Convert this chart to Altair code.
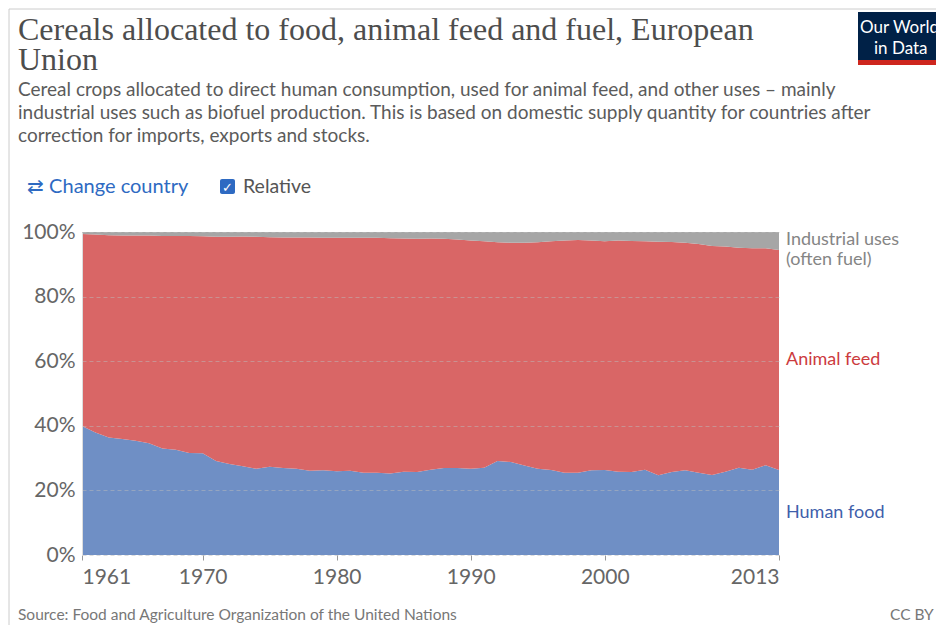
import altair as alt
import pandas as pd

years = list(range(1961, 2014))
human_food = [39.9, 37.9, 36.4, 35.9, 35.4, 34.6, 33.0, 32.6, 31.6, 31.5,
              29.1, 28.2, 27.5, 26.7, 27.3, 26.9, 26.7, 26.1, 26.2, 25.9,
              26.1, 25.5, 25.5, 25.2, 25.8, 25.7, 26.4, 26.9, 26.9, 26.7,
              27.0, 29.1, 28.8, 27.7, 26.7, 26.3, 25.5, 25.5, 26.2, 26.3,
              25.8, 25.7, 26.4, 24.7, 25.7, 26.2, 25.5, 24.8, 25.8, 27.0,
              26.4, 27.8, 26.3]
animal_feed = [59.5, 61.3, 62.6, 63.0, 63.5, 64.3, 65.8, 66.2, 67.2, 67.2,
               69.4, 70.3, 71.1, 71.8, 71.1, 71.4, 71.6, 72.2, 72.0, 72.3,
               72.1, 72.7, 72.7, 72.9, 72.2, 72.2, 71.6, 71.0, 70.8, 70.7,
               70.1, 67.7, 67.9, 69.0, 70.1, 70.8, 71.9, 72.0, 71.2, 70.8,
               71.6, 71.5, 70.7, 72.3, 71.2, 70.5, 70.8, 70.9, 69.7, 68.1,
               68.6, 67.2, 68.1]
industrial = [0.6, 0.8, 1.0, 1.1, 1.1, 1.1, 1.2, 1.2, 1.2, 1.3,
              1.5, 1.5, 1.4, 1.5, 1.6, 1.7, 1.7, 1.7, 1.8, 1.8,
              1.8, 1.8, 1.8, 1.9, 2.0, 2.1, 2.0, 2.1, 2.3, 2.6,
              2.9, 3.2, 3.3, 3.3, 3.2, 2.9, 2.6, 2.5, 2.6, 2.9,
              2.6, 2.8, 2.9, 3.0, 3.1, 3.3, 3.7, 4.3, 4.5, 4.9,
              5.0, 5.0, 5.6]

series = ["Human food", "Animal feed", "Industrial uses (often fuel)"]
colors = ["#6f8fc5", "#d96666", "#a6a6a6"]
x_ticks = [1961, 1970, 1980, 1990, 2000, 2013]
y_ticks = [0, 20, 40, 60, 80, 100]

rows = []
for i, y in enumerate(years):
    for k, (name, vals) in enumerate(zip(series, [human_food, animal_feed, industrial])):
        rows.append({"year": y, "series": name, "value": vals[i], "ord": k})
df = pd.DataFrame(rows)

W, H = 697, 323
L, T = 74, 224
TOTAL_W, TOTAL_H = 928, 617

def px(X):
    return X - 82

def py(Y):
    return Y - 232

xscale = alt.Scale(domain=[1961, 2013], nice=False, zero=False)
yscale = alt.Scale(domain=[0, 100], nice=False)

area = alt.Chart(df).mark_area(opacity=1).encode(
    x=alt.X("year:Q", scale=xscale,
            axis=alt.Axis(values=x_ticks, format="d", title=None, grid=False,
                          labelFlush=True, labelFontSize=21, labelColor="#666666",
                          labelFont="Lato", labelPadding=6, tickSize=5, tickColor="#999999",
                          domain=False, zindex=1)),
    y=alt.Y("value:Q", stack="zero", scale=yscale,
            axis=alt.Axis(values=y_ticks, labelExpr="datum.value + '%'", title=None,
                          labelFontSize=21, labelColor="#666666", labelFont="Lato",
                          labelPadding=7, ticks=False, domain=True, domainColor="#dddddd",
                          grid=True, gridColor="#bbbbbb", gridDash=[4, 3], gridOpacity=0.5,
                          zindex=1)),
    color=alt.Color("series:N", scale=alt.Scale(domain=series, range=colors), legend=None),
    order=alt.Order("ord:Q"),
)

# Series labels at right, positioned at middle of each band at the last year
last = len(years) - 1
mids = [human_food[last] / 2,
        human_food[last] + animal_feed[last] / 2,
        human_food[last] + animal_feed[last] + industrial[last] / 2]

def series_label(text, mid, color, dy=0):
    d = pd.DataFrame({"year": [years[last]], "mid": [mid], "t": [text]})
    return alt.Chart(d).mark_text(align="left", baseline="middle", dx=7, dy=dy,
                                  font="Lato", fontSize=18, color=color).encode(
        x=alt.X("year:Q", scale=xscale), y=alt.Y("mid:Q", scale=yscale), text="t:N")

labels = [
    series_label("Human food", mids[0], "#3f5fab"),
    series_label("Animal feed", mids[1], "#cc3b3e"),
    series_label("Industrial uses", mids[2], "#858585", dy=-1),
    series_label("(often fuel)", mids[2], "#858585", dy=19),
]

# Header / footer texts
def text_layer(items, **kw):
    d = pd.DataFrame(items, columns=["t", "X", "Y"])
    d["X"] = d["X"].map(px)
    d["Y"] = d["Y"].map(py)
    return alt.Chart(d).mark_text(align="left", baseline="alphabetic", **kw).encode(
        x=alt.X("X:Q", scale=None), y=alt.Y("Y:Q", scale=None), text="t:N")

title1 = text_layer([("Cereals allocated to food, animal feed and fuel, European", 18, 40)],
                    font="Liberation Serif", fontSize=32, color="#4d4d4d")
title2 = text_layer([("Union", 18, 70)],
                    font="Liberation Serif", fontSize=32, color="#4d4d4d")

subtitle = text_layer([
    ("Cereal crops allocated to direct human consumption, used for animal feed, and other uses \u2013 mainly", 18, 96),
    ("industrial uses such as biofuel production. This is based on domestic supply quantity for countries after", 18, 119),
    ("correction for imports, exports and stocks.", 18, 142),
], font="Lato", fontSize=19, color="#5b5b5b")

change = text_layer([("\u21c4 Change country", 27, 193)], font="Lato", fontSize=20, color="#2e6ac2")
relative = text_layer([("Relative", 243, 193)], font="Lato", fontSize=19.5, color="#555555")

checkbox_box = alt.Chart(pd.DataFrame({"a": [0]})).mark_rect(
    color="#2e6ac2", cornerRadius=2).encode(
    x=alt.value(px(220)), x2=alt.value(px(235)), y=alt.value(py(179)), y2=alt.value(py(194)))
check = text_layer([("\u2713", 222, 192)], font="DejaVu Sans", fontSize=13, color="white",
                   fontWeight="bold")

logo_box = alt.Chart(pd.DataFrame({"a": [0]})).mark_rect(color="#002147").encode(
    x=alt.value(px(858)), x2=alt.value(px(944)), y=alt.value(py(12)), y2=alt.value(py(60)))
logo_bar = alt.Chart(pd.DataFrame({"a": [0]})).mark_rect(color="#ce261e").encode(
    x=alt.value(px(858)), x2=alt.value(px(944)), y=alt.value(py(60)), y2=alt.value(py(65)))
logo_text = text_layer([("Our World", 860, 33), ("in Data", 874, 54)],
                       font="Lato", fontSize=17, color="white")

source = text_layer([("Source: Food and Agriculture Organization of the United Nations", 18, 620),
                     ("CC BY", 890, 620)], font="Lato", fontSize=15.5, color="#777777")

frame_left = alt.Chart(pd.DataFrame({"a": [0]})).mark_rule(color="#cccccc").encode(
    x=alt.value(px(9)), y=alt.value(py(9)), y2=alt.value(py(640)))
frame_top = alt.Chart(pd.DataFrame({"a": [0]})).mark_rule(color="#cccccc").encode(
    x=alt.value(px(9)), x2=alt.value(px(944)), y=alt.value(py(9)))

chart = alt.layer(
    area, *labels, title1, title2, subtitle, change, checkbox_box, check, relative,
    logo_box, logo_bar, logo_text, source, frame_left, frame_top
).properties(
    width=W, height=H,
    autosize=alt.AutoSizeParams(type="none"),
    padding={"left": L, "top": T, "right": TOTAL_W - L - W, "bottom": TOTAL_H - T - H},
    background="white",
).configure_view(stroke=None)

chart.save("out.html", embed_options={"renderer": "svg", "actions": False})
